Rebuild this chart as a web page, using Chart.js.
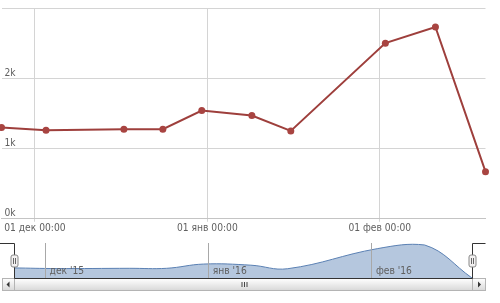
<!DOCTYPE html>
<html><head><meta charset="utf-8">
<script src="https://cdn.jsdelivr.net/npm/chart.js@4"></script>
<style>
html,body{margin:0;padding:0;background:#fff;}
#wrap{position:relative;width:500px;height:303px;overflow:hidden;}
#main{position:absolute;left:0;top:0;}
#nav{position:absolute;left:0;top:238px;}
</style></head><body>
<div id="wrap">
<canvas id="main" width="500" height="234"></canvas>
<canvas id="nav" width="500" height="65"></canvas>
</div>
<script>
// ---- data ----
const categories = ['2015-11-25','2015-12-03','2015-12-17','2015-12-24','2015-12-31','2016-01-09','2016-01-16','2016-02-02','2016-02-11','2016-02-20'];
const values = [1300, 1260, 1275, 1275, 1540, 1470, 1250, 2500, 2730, 670];
const xTickDates = ['2015-12-01', '2016-01-01', '2016-02-01'];
const xTickLabels = ['01 дек 00:00', '01 янв 00:00', '01 фев 00:00'];
const navTickLabels = ["дек '15", "янв '16", "фев '16"];
const yTickValues = [0, 1000, 2000, 3000];
const yTickLabels = ['0k', '1k', '2k', ''];

const origin = Date.UTC(2015, 11, 1);
const toDay = s => (Date.parse(s + 'T00:00:00Z') - origin) / 86400000;
const points = categories.map((c, i) => ({x: toDay(c), y: values[i]}));
const xTicks = xTickDates.map(toDay);
const xMin = points[0].x, xMax = points[points.length - 1].x;

const FONT = {family: '"DejaVu Sans Condensed", "DejaVu Sans", sans-serif', size: 10.2};
const LABEL = '#606060';
const noPad = s => { s.paddingLeft = 0; s.paddingRight = 0; s.paddingTop = 0; s.paddingBottom = 0; };

new Chart(document.getElementById('main'), {
  type: 'line',
  data: {datasets: [{
    data: points,
    borderColor: '#9e3f3c', borderWidth: 2,
    pointBackgroundColor: '#a84441', pointBorderWidth: 0, pointRadius: 3.5,
    tension: 0, clip: false
  }]},
  options: {
    responsive: false, animation: false,
    layout: {autoPadding: false, padding: {left: 1.5, right: 14.5, top: 8, bottom: 0}},
    plugins: {legend: {display: false}, tooltip: {enabled: false}},
    scales: {
      x: {
        type: 'linear', min: xMin, max: xMax,
        afterBuildTicks: s => { s.ticks = xTicks.map(v => ({value: v})); },
        afterFit: noPad,
        ticks: {callback: (v, i) => xTickLabels[i], font: FONT, color: LABEL, padding: 0, maxRotation: 0, autoSkip: false},
        grid: {color: '#d4d4d4', tickLength: 3},
        border: {color: '#c4c4c4'}
      },
      y: {
        min: 0, max: 3000,
        afterBuildTicks: s => { s.ticks = yTickValues.map(v => ({value: v})); },
        afterFit: s => { noPad(s); s.width = 0; },
        ticks: {mirror: true, align: 'end', padding: 3, callback: (v, i) => yTickLabels[i], font: FONT, color: LABEL},
        grid: {color: '#d4d4d4', drawTicks: false},
        border: {display: false}
      }
    }
  }
});

const navDecor = {
  id: 'navDecor',
  afterDraw(chart) {
    const {ctx, chartArea: a} = chart;
    const L = Math.round(a.left) + 0.5, R = Math.round(a.right) + 0.5;
    const T = Math.round(a.top) + 0.5, B = Math.round(a.bottom) + 0.5;
    const sh = 12, bl = 12, br = 13;
    ctx.save();
    // scrollbar
    let g = ctx.createLinearGradient(0, B, 0, B + sh);
    g.addColorStop(0, '#ffffff'); g.addColorStop(1, '#d8d8d8');
    ctx.fillStyle = g;
    ctx.fillRect(L - bl, B, (R + br) - (L - bl), sh);
    ctx.strokeStyle = '#b4b4b4'; ctx.lineWidth = 1;
    ctx.strokeRect(L - bl, B, (R + br) - (L - bl), sh);
    ctx.strokeRect(L - bl, B, bl, sh);
    ctx.strokeRect(R, B, br, sh);
    // arrows
    ctx.fillStyle = '#333';
    const cy = B + sh / 2;
    ctx.beginPath(); ctx.moveTo(L - bl / 2 - 2, cy); ctx.lineTo(L - bl / 2 + 1, cy - 3); ctx.lineTo(L - bl / 2 + 1, cy + 3); ctx.closePath(); ctx.fill();
    ctx.beginPath(); ctx.moveTo(R + br / 2 + 2, cy); ctx.lineTo(R + br / 2 - 1, cy - 3); ctx.lineTo(R + br / 2 - 1, cy + 3); ctx.closePath(); ctx.fill();
    // grip
    const gx = Math.round((L + R) / 2);
    ctx.fillStyle = '#444';
    for (let i = -1; i <= 1; i++) ctx.fillRect(gx + i * 2.5, B + 3.5, 1, 5);
    // outline
    ctx.strokeStyle = '#333';
    ctx.beginPath();
    ctx.moveTo(0, T); ctx.lineTo(L, T); ctx.lineTo(L, B); ctx.lineTo(R, B); ctx.lineTo(R, T); ctx.lineTo(R + br, T);
    ctx.stroke();
    // handles
    const hy = Math.round((a.top + a.bottom) / 2);
    [L, R].forEach(x => {
      ctx.beginPath();
      ctx.roundRect(x - 3.5, hy - 6, 7, 12, 2);
      ctx.fillStyle = '#f2f0f0'; ctx.fill();
      ctx.strokeStyle = '#888'; ctx.stroke();
      ctx.strokeStyle = '#666';
      ctx.beginPath();
      ctx.moveTo(x - 1, hy - 3); ctx.lineTo(x - 1, hy + 3);
      ctx.moveTo(x + 1, hy - 3); ctx.lineTo(x + 1, hy + 3);
      ctx.stroke();
    });
    ctx.restore();
  }
};

const vMin = Math.min(...values), vMax = Math.max(...values);
new Chart(document.getElementById('nav'), {
  type: 'line',
  data: {datasets: [{
    data: points,
    borderColor: '#5a80b3', borderWidth: 1,
    backgroundColor: 'rgb(181,199,222)', fill: 'start',
    pointRadius: 0, tension: 0.4
  }]},
  options: {
    responsive: false, animation: false,
    layout: {autoPadding: false, padding: {left: 14, right: 28, top: 5, bottom: 25}},
    plugins: {legend: {display: false}, tooltip: {enabled: false}},
    scales: {
      x: {
        type: 'linear', min: xMin, max: xMax,
        afterBuildTicks: s => { s.ticks = xTicks.map(v => ({value: v})); },
        afterFit: s => { noPad(s); s.height = 0; },
        ticks: {mirror: true, align: 'start', labelOffset: 4, padding: 1, z: 1, callback: (v, i) => navTickLabels[i], font: FONT, color: LABEL, maxRotation: 0, autoSkip: false},
        grid: {color: '#a8a8a8', drawTicks: false, z: 1},
        border: {display: false}
      },
      y: {display: false, min: vMin, max: vMax + (vMax - vMin) * 0.06}
    }
  },
  plugins: [navDecor]
});
</script>
</body></html>
